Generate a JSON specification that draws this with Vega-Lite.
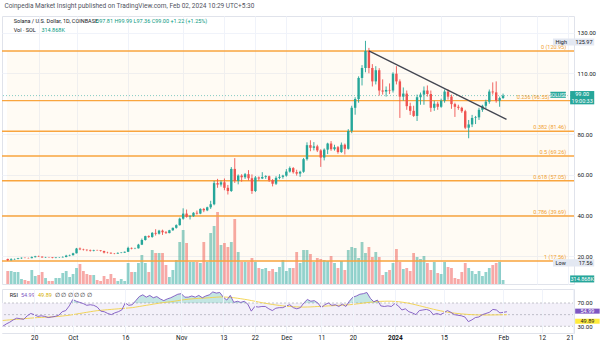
{
"$schema": "https://vega.github.io/schema/vega-lite/v6.json",
"background": "white",
"padding": {"left": 0, "top": 2, "right": 0, "bottom": 0},
"title": {"text": "Coinpedia Market Insight published on TradingView.com, Feb 02, 2024 10:29 UTC+5:30", "anchor": "start", "fontSize": 6.5, "fontWeight": "normal", "color": "#50535e", "offset": 6.5, "dx": 4},
"spacing": 3,
"config": {"font": "Liberation Sans Narrow, Roboto, sans-serif", "view": {"stroke": "#e0e3eb", "strokeWidth": 1}},
"datasets": {
"k": [
{"d":"2023-09-11","o":18.56,"h":18.7,"l":17.56,"c":17.95,"v":1.3,"r":30,"m":40},
{"d":"2023-09-12","o":17.95,"h":18.9,"l":17.8,"c":18.4,"v":1.3,"r":34,"m":40.5},
{"d":"2023-09-13","o":18.4,"h":18.75,"l":18.1,"c":18.55,"v":1.2,"r":37,"m":41},
{"d":"2023-09-14","o":18.55,"h":19.1,"l":18.4,"c":18.9,"v":1.2,"r":41,"m":41.5},
{"d":"2023-09-15","o":18.9,"h":19.3,"l":18.6,"c":19.15,"v":0.5,"r":44,"m":42},
{"d":"2023-09-16","o":19.15,"h":19.3,"l":18.9,"c":19.05,"v":0.4,"r":43,"m":42.5},
{"d":"2023-09-17","o":19.05,"h":19.2,"l":18.8,"c":18.95,"v":0.3,"r":42,"m":43},
{"d":"2023-09-18","o":18.95,"h":19.8,"l":18.9,"c":19.45,"v":1.4,"r":48,"m":43.5},
{"d":"2023-09-19","o":19.45,"h":20.1,"l":19.3,"c":19.85,"v":0.8,"r":52,"m":44},
{"d":"2023-09-20","o":19.85,"h":20.2,"l":19.5,"c":19.7,"v":0.9,"r":50,"m":44.5},
{"d":"2023-09-21","o":19.7,"h":19.8,"l":19.2,"c":19.3,"v":1.2,"r":47,"m":45},
{"d":"2023-09-22","o":19.3,"h":19.6,"l":19.1,"c":19.45,"v":0.6,"r":48,"m":45.3},
{"d":"2023-09-23","o":19.45,"h":19.55,"l":19.2,"c":19.35,"v":0.3,"r":47,"m":45.6},
{"d":"2023-09-24","o":19.35,"h":19.45,"l":18.9,"c":19.05,"v":0.3,"r":45,"m":45.9},
{"d":"2023-09-25","o":19.05,"h":19.4,"l":18.9,"c":19.3,"v":0.6,"r":46,"m":46.2},
{"d":"2023-09-26","o":19.3,"h":19.5,"l":19.05,"c":19.35,"v":0.6,"r":47,"m":46.5},
{"d":"2023-09-27","o":19.35,"h":19.9,"l":19.2,"c":19.5,"v":1.1,"r":49,"m":47},
{"d":"2023-09-28","o":19.5,"h":20.6,"l":19.4,"c":20.2,"v":1.3,"r":55,"m":47.6},
{"d":"2023-09-29","o":20.2,"h":20.7,"l":19.9,"c":20.4,"v":0.7,"r":57,"m":48.3},
{"d":"2023-09-30","o":20.4,"h":21.6,"l":20.3,"c":21.35,"v":1.0,"r":65,"m":49},
{"d":"2023-10-01","o":21.35,"h":24.0,"l":21.3,"c":23.7,"v":1.6,"r":76,"m":50},
{"d":"2023-10-02","o":23.7,"h":24.2,"l":22.9,"c":23.3,"v":2.0,"r":73,"m":51},
{"d":"2023-10-03","o":23.3,"h":23.6,"l":22.7,"c":23.1,"v":1.3,"r":71,"m":52},
{"d":"2023-10-04","o":23.1,"h":23.3,"l":22.4,"c":22.9,"v":1.0,"r":69,"m":53},
{"d":"2023-10-05","o":22.9,"h":23.2,"l":22.2,"c":22.6,"v":0.9,"r":66,"m":54},
{"d":"2023-10-06","o":22.6,"h":23.1,"l":22.3,"c":22.9,"v":0.9,"r":67,"m":55},
{"d":"2023-10-07","o":22.9,"h":23.1,"l":22.6,"c":22.8,"v":0.4,"r":66,"m":56},
{"d":"2023-10-08","o":22.8,"h":22.9,"l":22.2,"c":22.5,"v":0.3,"r":63,"m":56.8},
{"d":"2023-10-09","o":22.5,"h":22.6,"l":21.3,"c":21.7,"v":0.8,"r":56,"m":57.4},
{"d":"2023-10-10","o":21.7,"h":22.1,"l":21.3,"c":21.6,"v":0.5,"r":55,"m":58},
{"d":"2023-10-11","o":21.6,"h":21.8,"l":21.0,"c":21.3,"v":1.0,"r":52,"m":58.5},
{"d":"2023-10-12","o":21.3,"h":21.5,"l":20.9,"c":21.2,"v":0.6,"r":50,"m":59},
{"d":"2023-10-13","o":21.2,"h":21.8,"l":21.1,"c":21.55,"v":0.3,"r":53,"m":59.5},
{"d":"2023-10-14","o":21.55,"h":21.9,"l":21.4,"c":21.7,"v":0.5,"r":55,"m":60},
{"d":"2023-10-15","o":21.7,"h":22.2,"l":21.5,"c":22.1,"v":0.3,"r":58,"m":60.5},
{"d":"2023-10-16","o":22.1,"h":24.6,"l":22.0,"c":24.0,"v":2.1,"r":70,"m":61},
{"d":"2023-10-17","o":24.0,"h":24.2,"l":23.3,"c":23.7,"v":1.2,"r":66,"m":61.5},
{"d":"2023-10-18","o":23.7,"h":24.1,"l":23.4,"c":23.8,"v":1.2,"r":67,"m":62},
{"d":"2023-10-19","o":23.8,"h":26.0,"l":23.7,"c":25.6,"v":2.1,"r":74,"m":63},
{"d":"2023-10-20","o":25.6,"h":28.6,"l":25.4,"c":27.9,"v":2.9,"r":81,"m":64},
{"d":"2023-10-21","o":27.9,"h":30.0,"l":27.6,"c":29.8,"v":2.1,"r":84,"m":65},
{"d":"2023-10-22","o":29.8,"h":30.2,"l":28.9,"c":29.4,"v":1.2,"r":80,"m":66},
{"d":"2023-10-23","o":29.4,"h":31.8,"l":29.0,"c":31.4,"v":3.4,"r":83,"m":67},
{"d":"2023-10-24","o":31.4,"h":33.2,"l":30.1,"c":31.0,"v":3.1,"r":79,"m":68},
{"d":"2023-10-25","o":31.0,"h":32.9,"l":30.6,"c":32.5,"v":3.1,"r":81,"m":69},
{"d":"2023-10-26","o":32.5,"h":33.0,"l":30.4,"c":31.7,"v":3.1,"r":77,"m":70},
{"d":"2023-10-27","o":31.7,"h":32.3,"l":30.9,"c":31.3,"v":1.9,"r":74,"m":70.8},
{"d":"2023-10-28","o":31.3,"h":32.9,"l":31.2,"c":32.7,"v":0.7,"r":77,"m":71.5},
{"d":"2023-10-29","o":32.7,"h":34.0,"l":32.4,"c":33.9,"v":1.4,"r":79,"m":72.2},
{"d":"2023-10-30","o":33.9,"h":35.6,"l":33.5,"c":35.2,"v":2.4,"r":82,"m":73},
{"d":"2023-10-31","o":35.2,"h":38.9,"l":35.0,"c":38.4,"v":4.2,"r":85,"m":74},
{"d":"2023-11-01","o":38.4,"h":43.5,"l":37.9,"c":40.9,"v":5.4,"r":86,"m":75},
{"d":"2023-11-02","o":40.9,"h":42.9,"l":38.9,"c":39.3,"v":4.1,"r":80,"m":75.8},
{"d":"2023-11-03","o":39.3,"h":40.1,"l":38.0,"c":39.6,"v":2.2,"r":80,"m":76.5},
{"d":"2023-11-04","o":39.6,"h":41.6,"l":39.3,"c":41.3,"v":2.2,"r":82,"m":77},
{"d":"2023-11-05","o":41.3,"h":42.4,"l":40.4,"c":40.9,"v":2.2,"r":80,"m":77.5},
{"d":"2023-11-06","o":40.9,"h":43.5,"l":40.6,"c":43.2,"v":2.1,"r":83,"m":78},
{"d":"2023-11-07","o":43.2,"h":43.7,"l":41.6,"c":42.5,"v":4.2,"r":79,"m":78.3},
{"d":"2023-11-08","o":42.5,"h":44.3,"l":42.1,"c":44.0,"v":2.2,"r":82,"m":78.6},
{"d":"2023-11-09","o":44.0,"h":47.2,"l":43.2,"c":45.5,"v":5.1,"r":84,"m":79},
{"d":"2023-11-10","o":45.5,"h":57.0,"l":45.0,"c":55.9,"v":5.8,"r":89,"m":79.5},
{"d":"2023-11-11","o":55.9,"h":58.0,"l":53.6,"c":55.2,"v":7.2,"r":87,"m":80},
{"d":"2023-11-12","o":55.2,"h":57.2,"l":54.2,"c":56.3,"v":3.9,"r":88,"m":80.3},
{"d":"2023-11-13","o":56.3,"h":58.2,"l":52.4,"c":53.6,"v":4.1,"r":80,"m":80.3},
{"d":"2023-11-14","o":53.6,"h":55.0,"l":50.3,"c":52.0,"v":3.7,"r":75,"m":80},
{"d":"2023-11-15","o":52.0,"h":63.8,"l":51.6,"c":62.9,"v":4.2,"r":83,"m":79.6},
{"d":"2023-11-16","o":62.9,"h":68.2,"l":56.0,"c":57.0,"v":6.5,"r":71,"m":79},
{"d":"2023-11-17","o":57.0,"h":60.2,"l":55.3,"c":59.6,"v":3.2,"r":73,"m":78.2},
{"d":"2023-11-18","o":59.6,"h":60.3,"l":56.6,"c":58.8,"v":2.2,"r":71,"m":77.3},
{"d":"2023-11-19","o":58.8,"h":60.9,"l":58.0,"c":60.3,"v":2.2,"r":73,"m":76.4},
{"d":"2023-11-20","o":60.3,"h":62.3,"l":57.2,"c":58.3,"v":2.2,"r":68,"m":75.4},
{"d":"2023-11-21","o":58.3,"h":60.2,"l":50.6,"c":52.0,"v":2.6,"r":56,"m":74.2},
{"d":"2023-11-22","o":52.0,"h":59.4,"l":51.5,"c":58.7,"v":2.2,"r":64,"m":73},
{"d":"2023-11-23","o":58.7,"h":59.2,"l":57.1,"c":58.2,"v":1.6,"r":63,"m":71.8},
{"d":"2023-11-24","o":58.2,"h":61.3,"l":57.9,"c":58.9,"v":1.5,"r":64,"m":70.6},
{"d":"2023-11-25","o":58.9,"h":59.8,"l":58.0,"c":59.3,"v":1.6,"r":64,"m":69.5},
{"d":"2023-11-26","o":59.3,"h":59.6,"l":56.5,"c":57.4,"v":1.3,"r":60,"m":68.5},
{"d":"2023-11-27","o":57.4,"h":57.9,"l":54.3,"c":55.6,"v":1.5,"r":57,"m":67.5},
{"d":"2023-11-28","o":55.6,"h":59.3,"l":55.0,"c":58.5,"v":1.2,"r":61,"m":66.6},
{"d":"2023-11-29","o":58.5,"h":60.3,"l":57.8,"c":59.0,"v":1.7,"r":62,"m":65.8},
{"d":"2023-11-30","o":59.0,"h":60.0,"l":58.1,"c":59.6,"v":2.4,"r":62,"m":65},
{"d":"2023-12-01","o":59.6,"h":62.8,"l":59.1,"c":61.6,"v":1.3,"r":65,"m":64.4},
{"d":"2023-12-02","o":61.6,"h":64.1,"l":61.1,"c":63.3,"v":1.6,"r":67,"m":64},
{"d":"2023-12-03","o":63.3,"h":63.8,"l":60.6,"c":61.3,"v":1.6,"r":62,"m":63.6},
{"d":"2023-12-04","o":61.3,"h":62.5,"l":59.6,"c":60.6,"v":3.2,"r":60,"m":63.3},
{"d":"2023-12-05","o":60.6,"h":62.0,"l":59.0,"c":61.5,"v":2.1,"r":62,"m":63.1},
{"d":"2023-12-06","o":61.5,"h":68.3,"l":61.0,"c":67.7,"v":3.4,"r":70,"m":63},
{"d":"2023-12-07","o":67.7,"h":76.0,"l":67.0,"c":74.6,"v":3.4,"r":76,"m":63.1},
{"d":"2023-12-08","o":74.6,"h":77.0,"l":71.6,"c":73.3,"v":3.0,"r":73,"m":63.3},
{"d":"2023-12-09","o":73.3,"h":76.1,"l":72.0,"c":74.0,"v":2.2,"r":74,"m":63.6},
{"d":"2023-12-10","o":74.0,"h":74.8,"l":71.2,"c":72.0,"v":2.6,"r":70,"m":64},
{"d":"2023-12-11","o":72.0,"h":72.6,"l":63.9,"c":68.5,"v":2.5,"r":62,"m":64.3},
{"d":"2023-12-12","o":68.5,"h":73.0,"l":67.1,"c":72.4,"v":2.4,"r":67,"m":64.6},
{"d":"2023-12-13","o":72.4,"h":75.8,"l":70.2,"c":75.4,"v":2.3,"r":70,"m":65},
{"d":"2023-12-14","o":75.4,"h":76.6,"l":71.8,"c":72.6,"v":2.8,"r":66,"m":65.3},
{"d":"2023-12-15","o":72.6,"h":74.8,"l":71.9,"c":73.6,"v":2.1,"r":67,"m":65.6},
{"d":"2023-12-16","o":73.6,"h":74.2,"l":70.4,"c":71.2,"v":1.6,"r":64,"m":66},
{"d":"2023-12-17","o":71.2,"h":75.9,"l":70.8,"c":74.8,"v":2.3,"r":68,"m":66.3},
{"d":"2023-12-18","o":74.8,"h":75.4,"l":70.0,"c":72.8,"v":1.4,"r":64,"m":66.6},
{"d":"2023-12-19","o":72.8,"h":82.5,"l":72.4,"c":81.6,"v":3.4,"r":73,"m":67},
{"d":"2023-12-20","o":81.6,"h":94.0,"l":80.5,"c":93.0,"v":3.7,"r":80,"m":67.6},
{"d":"2023-12-21","o":93.0,"h":98.2,"l":89.6,"c":97.3,"v":3.6,"r":82,"m":68.3},
{"d":"2023-12-22","o":97.3,"h":108.5,"l":95.5,"c":107.7,"v":2.6,"r":85,"m":69},
{"d":"2023-12-23","o":107.7,"h":114.0,"l":104.0,"c":112.6,"v":4.2,"r":86,"m":69.8},
{"d":"2023-12-24","o":112.6,"h":125.97,"l":110.5,"c":120.95,"v":3.1,"r":88,"m":70.6},
{"d":"2023-12-25","o":120.95,"h":122.5,"l":110.0,"c":112.6,"v":3.7,"r":78,"m":71.3},
{"d":"2023-12-26","o":112.6,"h":114.5,"l":103.5,"c":106.0,"v":2.7,"r":72,"m":71.9},
{"d":"2023-12-27","o":106.0,"h":113.5,"l":104.5,"c":111.5,"v":3.2,"r":75,"m":72.4},
{"d":"2023-12-28","o":111.5,"h":112.5,"l":99.0,"c":101.5,"v":2.7,"r":65,"m":72.8},
{"d":"2023-12-29","o":101.5,"h":107.0,"l":99.5,"c":101.0,"v":0.9,"r":64,"m":73},
{"d":"2023-12-30","o":101.0,"h":103.5,"l":98.5,"c":101.8,"v":1.2,"r":65,"m":73.1},
{"d":"2023-12-31","o":101.8,"h":105.0,"l":99.8,"c":101.5,"v":1.4,"r":64,"m":73},
{"d":"2024-01-01","o":101.5,"h":110.5,"l":100.5,"c":109.8,"v":2.1,"r":69,"m":72.7},
{"d":"2024-01-02","o":109.8,"h":113.5,"l":104.5,"c":106.0,"v":3.5,"r":65,"m":72.2},
{"d":"2024-01-03","o":106.0,"h":107.0,"l":88.0,"c":98.5,"v":2.2,"r":58,"m":71.5},
{"d":"2024-01-04","o":98.5,"h":103.0,"l":96.5,"c":100.0,"v":1.5,"r":60,"m":70.6},
{"d":"2024-01-05","o":100.0,"h":101.5,"l":92.0,"c":93.8,"v":1.6,"r":55,"m":69.5},
{"d":"2024-01-06","o":93.8,"h":95.5,"l":89.5,"c":91.5,"v":1.3,"r":53,"m":68.2},
{"d":"2024-01-07","o":91.5,"h":94.0,"l":88.5,"c":89.0,"v":3.1,"r":50,"m":66.8},
{"d":"2024-01-08","o":89.0,"h":99.5,"l":86.5,"c":98.2,"v":2.7,"r":57,"m":65.3},
{"d":"2024-01-09","o":98.2,"h":100.5,"l":94.5,"c":99.5,"v":2.5,"r":58,"m":63.8},
{"d":"2024-01-10","o":99.5,"h":103.5,"l":94.5,"c":101.5,"v":2.8,"r":59,"m":62.3},
{"d":"2024-01-11","o":101.5,"h":104.0,"l":98.5,"c":99.8,"v":2.1,"r":57,"m":60.8},
{"d":"2024-01-12","o":99.8,"h":101.5,"l":91.0,"c":93.0,"v":1.4,"r":50,"m":59.3},
{"d":"2024-01-13","o":93.0,"h":96.5,"l":91.5,"c":95.0,"v":2.2,"r":52,"m":57.9},
{"d":"2024-01-14","o":95.0,"h":96.0,"l":92.0,"c":93.5,"v":1.1,"r":50,"m":56.6},
{"d":"2024-01-15","o":93.5,"h":97.5,"l":93.0,"c":96.5,"v":1.0,"r":53,"m":55.4},
{"d":"2024-01-16","o":96.5,"h":102.0,"l":95.5,"c":101.0,"v":2.2,"r":57,"m":54.3},
{"d":"2024-01-17","o":101.0,"h":102.0,"l":97.0,"c":98.5,"v":1.7,"r":54,"m":53.4},
{"d":"2024-01-18","o":98.5,"h":99.5,"l":92.5,"c":94.8,"v":1.6,"r":50,"m":52.6},
{"d":"2024-01-19","o":94.8,"h":95.5,"l":88.5,"c":93.5,"v":0.6,"r":49,"m":51.9},
{"d":"2024-01-20","o":93.5,"h":94.5,"l":92.0,"c":93.0,"v":0.5,"r":48,"m":51.3},
{"d":"2024-01-21","o":93.0,"h":93.5,"l":90.5,"c":91.3,"v":1.2,"r":46,"m":50.8},
{"d":"2024-01-22","o":91.3,"h":92.0,"l":82.5,"c":83.2,"v":2.1,"r":38,"m":50.3},
{"d":"2024-01-23","o":83.2,"h":87.0,"l":78.0,"c":84.8,"v":1.6,"r":41,"m":50},
{"d":"2024-01-24","o":84.8,"h":89.5,"l":83.5,"c":88.0,"v":1.3,"r":45,"m":49.7},
{"d":"2024-01-25","o":88.0,"h":89.0,"l":85.0,"c":88.3,"v":1.0,"r":46,"m":49.5},
{"d":"2024-01-26","o":88.3,"h":93.0,"l":87.0,"c":92.0,"v":1.3,"r":50,"m":49.4},
{"d":"2024-01-27","o":92.0,"h":94.5,"l":91.0,"c":94.0,"v":0.8,"r":52,"m":49.4},
{"d":"2024-01-28","o":94.0,"h":97.0,"l":92.5,"c":96.0,"v":1.2,"r":54,"m":49.4},
{"d":"2024-01-29","o":96.0,"h":102.0,"l":95.0,"c":101.0,"v":1.6,"r":59,"m":49.5},
{"d":"2024-01-30","o":101.0,"h":105.5,"l":99.5,"c":100.6,"v":1.9,"r":58,"m":49.6},
{"d":"2024-01-31","o":100.6,"h":106.0,"l":95.5,"c":96.5,"v":2.1,"r":53,"m":49.7},
{"d":"2024-02-01","o":96.5,"h":98.5,"l":93.5,"c":97.78,"v":2.2,"r":54,"m":49.8},
{"d":"2024-02-02","o":97.81,"h":99.99,"l":97.36,"c":99.0,"v":0.4,"r":54.99,"m":49.89}
],
"fib": [
{"lab":"0 (120.95)","p":120.95},
{"lab":"0.236 (96.55)","p":96.55},
{"lab":"0.382 (81.46)","p":81.46},
{"lab":"0.5 (69.26)","p":69.26},
{"lab":"0.618 (57.05)","p":57.05},
{"lab":"0.786 (39.69)","p":39.69},
{"lab":"1 (17.56)","p":17.56}
],
"trend": [
{"d":"2023-12-25","p":121.0},
{"d":"2024-02-03","p":87.3}
]
},
"vconcat": [
{
"width": 572, "height": 268,
"data": {"name": "k"},
"layer": [
{"mark": {"type": "bar", "size": 2.8, "opacity": 0.5},
 "encoding": {
  "x": {"field": "d", "type": "temporal", "title": null,
   "scale": {"type": "utc", "domain": [{"year":2023,"month":9,"date":10,"hours":19,"utc":true},{"year":2024,"month":2,"date":21,"hours":4,"utc":true}]},
   "axis": {"labels": false, "ticks": false, "domain": false, "grid": true, "gridColor": "#f0f3fa", "title": null,
    "values": [{"year":2023,"month":9,"date":20,"utc":true},{"year":2023,"month":10,"date":1,"utc":true},{"year":2023,"month":10,"date":16,"utc":true},{"year":2023,"month":11,"date":1,"utc":true},{"year":2023,"month":11,"date":13,"utc":true},{"year":2023,"month":11,"date":22,"utc":true},{"year":2023,"month":12,"date":1,"utc":true},{"year":2023,"month":12,"date":11,"utc":true},{"year":2023,"month":12,"date":20,"utc":true},{"year":2024,"month":1,"date":1,"utc":true},{"year":2024,"month":1,"date":15,"utc":true},{"year":2024,"month":2,"date":1,"utc":true},{"year":2024,"month":2,"date":12,"utc":true},{"year":2024,"month":2,"date":21,"utc":true}]}},
  "y": {"field": "v", "type": "quantitative", "title": null, "scale": {"domain": [0, 26.8]}, "axis": null},
  "color": {"condition": {"test": "datum.c >= datum.o", "value": "#26a69a"}, "value": "#ef5350"}
 }},
{"layer": [
 {"data": {"values": [{"lo": 17.56, "hi": 120.95}]},
  "mark": {"type": "rect", "color": "#ff9800", "opacity": 0.045},
  "encoding": {
   "x": {"datum": {"year":2023,"month":9,"date":10,"hours":19,"utc":true}, "type": "temporal"},
   "x2": {"datum": {"year":2024,"month":2,"date":21,"hours":4,"utc":true}},
   "y": {"field": "lo", "type": "quantitative", "title": null, "scale": {"domain": [6.23, 138.2], "zero": false, "nice": false},
    "axis": {"orient": "right", "values": [20,30,40,50,60,70,80,90,110,120,130], "format": ".2f", "grid": true, "gridColor": "#f0f3fa", "domain": false, "ticks": false, "labelFontSize": 6, "labelColor": "#131722", "labelPadding": 3, "title": null}},
   "y2": {"field": "hi"}
  }},
 {"data": {"values": [{"p": 99}]},
  "mark": {"type": "rule", "color": "#26a69a", "strokeDash": [1, 2], "strokeWidth": 0.8, "opacity": 0.7},
  "encoding": {"y": {"field": "p", "type": "quantitative", "title": null, "scale": {"domain": [6.23, 138.2], "zero": false, "nice": false}}}},
 {"data": {"name": "fib"},
  "mark": {"type": "rule", "color": "#f9a53e", "strokeWidth": 1.4},
  "encoding": {"y": {"field": "p", "type": "quantitative", "title": null, "scale": {"domain": [6.23, 138.2], "zero": false, "nice": false}}}},
 {"data": {"name": "fib"},
  "transform": [{"filter": "datum.p != 96.55"}],
  "mark": {"type": "text", "align": "right", "baseline": "bottom", "dy": -1, "fontSize": 5.5, "color": "#f0a030"},
  "encoding": {
   "x": {"datum": {"year":2024,"month":2,"date":20,"hours":8,"utc":true}, "type": "temporal"},
   "y": {"field": "p", "type": "quantitative", "title": null, "scale": {"domain": [6.23, 138.2], "zero": false, "nice": false}},
   "text": {"field": "lab"}}},
 {"data": {"name": "fib"},
  "transform": [{"filter": "datum.p == 96.55"}],
  "mark": {"type": "text", "align": "right", "baseline": "bottom", "dy": -1, "fontSize": 5.5, "color": "#f0a030"},
  "encoding": {
   "x": {"datum": {"year":2024,"month":2,"date":15,"hours":12,"utc":true}, "type": "temporal"},
   "y": {"field": "p", "type": "quantitative", "title": null, "scale": {"domain": [6.23, 138.2], "zero": false, "nice": false}},
   "text": {"field": "lab"}}},
 {"mark": {"type": "rule", "strokeWidth": 0.9},
  "encoding": {
   "x": {"field": "d", "type": "temporal", "title": null},
   "y": {"field": "l", "type": "quantitative", "title": null, "scale": {"domain": [6.23, 138.2], "zero": false, "nice": false}},
   "y2": {"field": "h"},
   "color": {"condition": {"test": "datum.c >= datum.o", "value": "#26a69a"}, "value": "#ef5350"}}},
 {"mark": {"type": "bar", "size": 2.4},
  "encoding": {
   "x": {"field": "d", "type": "temporal", "title": null},
   "y": {"field": "o", "type": "quantitative", "title": null, "scale": {"domain": [6.23, 138.2], "zero": false, "nice": false}},
   "y2": {"field": "c"},
   "color": {"condition": {"test": "datum.c >= datum.o", "value": "#26a69a"}, "value": "#ef5350"}}},
 {"data": {"name": "trend"},
  "mark": {"type": "line", "color": "#434651", "strokeWidth": 1.3},
  "encoding": {
   "x": {"field": "d", "type": "temporal", "title": null},
   "y": {"field": "p", "type": "quantitative", "title": null, "scale": {"domain": [6.23, 138.2], "zero": false, "nice": false}}}},
 {"data": {"values": [{}]},
  "mark": {"type": "text", "align": "left", "baseline": "middle", "fontSize": 5.5, "color": "#131722"},
  "encoding": {"x": {"datum": {"year":2023,"month":9,"date":12,"hours":18,"utc":true}, "type": "temporal"}, "y": {"datum": 135.7}, "text": {"value": "Solana / U.S. Dollar, 1D, COINBASE"}}},
 {"data": {"values": [{}]},
  "mark": {"type": "text", "align": "left", "baseline": "middle", "fontSize": 5.5, "color": "#089981"},
  "encoding": {"x": {"datum": {"year":2023,"month":10,"date":6,"hours":12,"utc":true}, "type": "temporal"}, "y": {"datum": 135.7}, "text": {"value": "O97.81  H99.99  L97.36  C99.00  +1.22 (+1.25%)"}}},
 {"data": {"values": [{}]},
  "mark": {"type": "text", "align": "left", "baseline": "middle", "fontSize": 5.5, "color": "#131722"},
  "encoding": {"x": {"datum": {"year":2023,"month":9,"date":12,"hours":18,"utc":true}, "type": "temporal"}, "y": {"datum": 131.3}, "text": {"value": "Vol · SOL"}}},
 {"data": {"values": [{}]},
  "mark": {"type": "text", "align": "left", "baseline": "middle", "fontSize": 5.5, "color": "#089981"},
  "encoding": {"x": {"datum": {"year":2023,"month":9,"date":20,"hours":19,"utc":true}, "type": "temporal"}, "y": {"datum": 131.3}, "text": {"value": "314.868K"}}},
 {"data": {"values": [{}]},
  "mark": {"type": "rect", "color": "#e3e8f2"},
  "encoding": {"x": {"datum": {"year":2024,"month":2,"date":16,"hours":12,"utc":true}, "type": "temporal"}, "x2": {"datum": {"year":2024,"month":2,"date":28,"hours":12,"utc":true}}, "y": {"datum": 123.7}, "y2": {"datum": 127.1}}},
 {"data": {"values": [{}]},
  "mark": {"type": "text", "align": "left", "baseline": "middle", "fontSize": 5.5, "color": "#131722"},
  "encoding": {"x": {"datum": {"year":2024,"month":2,"date":17,"hours":6,"utc":true}, "type": "temporal"}, "y": {"datum": 125.4}, "text": {"value": "High"}}},
 {"data": {"values": [{}]},
  "mark": {"type": "text", "align": "right", "baseline": "middle", "fontSize": 5.5, "color": "#131722"},
  "encoding": {"x": {"datum": {"year":2024,"month":2,"date":28,"hours":0,"utc":true}, "type": "temporal"}, "y": {"datum": 125.4}, "text": {"value": "125.97"}}},
 {"data": {"values": [{}]},
  "mark": {"type": "rect", "color": "#e3e8f2"},
  "encoding": {"x": {"datum": {"year":2024,"month":2,"date":16,"hours":12,"utc":true}, "type": "temporal"}, "x2": {"datum": {"year":2024,"month":2,"date":28,"hours":12,"utc":true}}, "y": {"datum": 14.9}, "y2": {"datum": 18.4}}},
 {"data": {"values": [{}]},
  "mark": {"type": "text", "align": "left", "baseline": "middle", "fontSize": 5.5, "color": "#131722"},
  "encoding": {"x": {"datum": {"year":2024,"month":2,"date":17,"hours":6,"utc":true}, "type": "temporal"}, "y": {"datum": 16.6}, "text": {"value": "Low"}}},
 {"data": {"values": [{}]},
  "mark": {"type": "text", "align": "right", "baseline": "middle", "fontSize": 5.5, "color": "#131722"},
  "encoding": {"x": {"datum": {"year":2024,"month":2,"date":28,"hours":0,"utc":true}, "type": "temporal"}, "y": {"datum": 16.6}, "text": {"value": "17.56"}}},
 {"data": {"values": [{}]},
  "mark": {"type": "rect", "color": "#26a69a"},
  "encoding": {"x": {"datum": {"year":2024,"month":2,"date":15,"hours":18,"utc":true}, "type": "temporal"}, "x2": {"datum": {"year":2024,"month":2,"date":20,"hours":6,"utc":true}}, "y": {"datum": 97.9}, "y2": {"datum": 100.9}}},
 {"data": {"values": [{}]},
  "mark": {"type": "text", "align": "center", "baseline": "middle", "fontSize": 5, "color": "white"},
  "encoding": {"x": {"datum": {"year":2024,"month":2,"date":18,"hours":0,"utc":true}, "type": "temporal"}, "y": {"datum": 99.4}, "text": {"value": "SOLUSD"}}},
 {"data": {"values": [{}]},
  "mark": {"type": "rect", "color": "#26a69a"},
  "encoding": {"x": {"datum": {"year":2024,"month":2,"date":21,"hours":12,"utc":true}, "type": "temporal"}, "x2": {"datum": {"year":2024,"month":2,"date":28,"hours":12,"utc":true}}, "y": {"datum": 94.7}, "y2": {"datum": 101.25}}},
 {"data": {"values": [{}]},
  "mark": {"type": "text", "align": "center", "baseline": "middle", "fontSize": 5.5, "color": "white"},
  "encoding": {"x": {"datum": {"year":2024,"month":2,"date":25,"hours":0,"utc":true}, "type": "temporal"}, "y": {"datum": 99.9}, "text": {"value": "99.00"}}},
 {"data": {"values": [{}]},
  "mark": {"type": "text", "align": "center", "baseline": "middle", "fontSize": 5.5, "color": "white"},
  "encoding": {"x": {"datum": {"year":2024,"month":2,"date":25,"hours":0,"utc":true}, "type": "temporal"}, "y": {"datum": 96.3}, "text": {"value": "19:00:33"}}},
 {"data": {"values": [{}]},
  "mark": {"type": "rect", "color": "#26a69a"},
  "encoding": {"x": {"datum": {"year":2024,"month":2,"date":21,"hours":12,"utc":true}, "type": "temporal"}, "x2": {"datum": {"year":2024,"month":2,"date":28,"hours":12,"utc":true}}, "y": {"datum": 7.0}, "y2": {"datum": 10.45}}},
 {"data": {"values": [{}]},
  "mark": {"type": "text", "align": "center", "baseline": "middle", "fontSize": 5.5, "color": "white"},
  "encoding": {"x": {"datum": {"year":2024,"month":2,"date":25,"hours":0,"utc":true}, "type": "temporal"}, "y": {"datum": 8.7}, "text": {"value": "314.868K"}}}
]}
],
"resolve": {"scale": {"y": "independent"}}
},
{
"width": 572, "height": 44,
"data": {"name": "k"},
"layer": [
 {"mark": {"type": "area", "color": "#26a69a", "opacity": 0.28},
  "encoding": {
   "x": {"field": "d", "type": "temporal", "title": null,
    "scale": {"type": "utc", "domain": [{"year":2023,"month":9,"date":10,"hours":19,"utc":true},{"year":2024,"month":2,"date":21,"hours":4,"utc":true}]},
    "axis": {"values": [{"year":2023,"month":9,"date":20,"utc":true},{"year":2023,"month":10,"date":1,"utc":true},{"year":2023,"month":10,"date":16,"utc":true},{"year":2023,"month":11,"date":1,"utc":true},{"year":2023,"month":11,"date":13,"utc":true},{"year":2023,"month":11,"date":22,"utc":true},{"year":2023,"month":12,"date":1,"utc":true},{"year":2023,"month":12,"date":11,"utc":true},{"year":2023,"month":12,"date":20,"utc":true},{"year":2024,"month":1,"date":1,"utc":true},{"year":2024,"month":1,"date":15,"utc":true},{"year":2024,"month":2,"date":1,"utc":true},{"year":2024,"month":2,"date":12,"utc":true},{"year":2024,"month":2,"date":21,"utc":true}],
     "labelExpr": "utcdate(datum.value) == 1 ? (utcmonth(datum.value) == 0 ? utcFormat(datum.value, '%Y') : utcFormat(datum.value, '%b')) : utcFormat(datum.value, '%-d')",
     "labelFontWeight": {"condition": {"test": "utcmonth(datum.value) == 0 && utcdate(datum.value) == 1", "value": "bold"}, "value": "normal"},
     "labelFontSize": 6.5, "labelColor": "#131722", "labelPadding": 1, "grid": true, "gridColor": "#f0f3fa", "ticks": false, "domain": false, "zindex": 1,
     "title": "TradingView", "titleAnchor": "start", "titleAlign": "left", "titleFontSize": 7, "titleFontWeight": "bold", "titleColor": "#131722", "titleX": 8, "titleY": 20, "titleBaseline": "middle"}},
   "y": {"field": "r", "type": "quantitative", "title": null, "scale": {"domain": [18.5, 94], "zero": false, "nice": false},
    "axis": {"orient": "right", "values": [70, 30], "format": ".2f", "grid": false, "domain": false, "ticks": false, "labelFontSize": 6, "labelColor": "#131722", "labelPadding": 3, "title": null}},
   "y2": {"datum": 70}
  }},
 {"data": {"values": [{}]},
  "mark": {"type": "rect", "color": "white"},
  "encoding": {"x": {"datum": {"year":2023,"month":9,"date":10,"hours":19,"utc":true}, "type": "temporal"}, "x2": {"datum": {"year":2024,"month":2,"date":21,"hours":4,"utc":true}}, "y": {"datum": 18.5}, "y2": {"datum": 70}}},
 {"data": {"values": [{}]},
  "mark": {"type": "rect", "color": "#7e57c2", "opacity": 0.09},
  "encoding": {"x": {"datum": {"year":2023,"month":9,"date":10,"hours":19,"utc":true}, "type": "temporal"}, "x2": {"datum": {"year":2024,"month":2,"date":21,"hours":4,"utc":true}}, "y": {"datum": 30}, "y2": {"datum": 70}}},
 {"data": {"values": [{"lv": 70}, {"lv": 50}, {"lv": 30}]},
  "mark": {"type": "rule", "color": "#787b86", "strokeDash": [2, 2], "strokeWidth": 0.7, "opacity": 0.6},
  "encoding": {"y": {"field": "lv", "type": "quantitative", "title": null}}},
 {"mark": {"type": "line", "color": "#f2d147", "strokeWidth": 0.9},
  "encoding": {"x": {"field": "d", "type": "temporal", "title": null}, "y": {"field": "m", "type": "quantitative", "title": null}}},
 {"mark": {"type": "line", "color": "#7e57c2", "strokeWidth": 0.9},
  "encoding": {"x": {"field": "d", "type": "temporal", "title": null}, "y": {"field": "r", "type": "quantitative", "title": null}}},
 {"data": {"values": [{}]},
  "mark": {"type": "text", "align": "left", "baseline": "middle", "fontSize": 5.5, "color": "#131722"},
  "encoding": {"x": {"datum": {"year":2023,"month":9,"date":13,"hours":0,"utc":true}, "type": "temporal"}, "y": {"datum": 84}, "text": {"value": "RSI"}}},
 {"data": {"values": [{}]},
  "mark": {"type": "text", "align": "left", "baseline": "middle", "fontSize": 5.5, "color": "#7e57c2"},
  "encoding": {"x": {"datum": {"year":2023,"month":9,"date":16,"hours":5,"utc":true}, "type": "temporal"}, "y": {"datum": 84}, "text": {"value": "54.99"}}},
 {"data": {"values": [{}]},
  "mark": {"type": "text", "align": "left", "baseline": "middle", "fontSize": 5.5, "color": "#d4b000"},
  "encoding": {"x": {"datum": {"year":2023,"month":9,"date":21,"hours":2,"utc":true}, "type": "temporal"}, "y": {"datum": 84}, "text": {"value": "49.89"}}},
 {"data": {"values": [{}]},
  "mark": {"type": "text", "align": "left", "baseline": "middle", "fontSize": 5.5, "color": "#131722"},
  "encoding": {"x": {"datum": {"year":2023,"month":9,"date":25,"hours":22,"utc":true}, "type": "temporal"}, "y": {"datum": 84}, "text": {"value": "∅ ∅ ∅ ∅ ∅ ∅"}}},
 {"data": {"values": [{}]},
  "mark": {"type": "rect", "color": "#7e57c2"},
  "encoding": {"x": {"datum": {"year":2024,"month":2,"date":21,"hours":12,"utc":true}, "type": "temporal"}, "x2": {"datum": {"year":2024,"month":2,"date":28,"hours":12,"utc":true}}, "y": {"datum": 51.7}, "y2": {"datum": 60.3}}},
 {"data": {"values": [{}]},
  "mark": {"type": "text", "align": "center", "baseline": "middle", "fontSize": 5.5, "color": "white"},
  "encoding": {"x": {"datum": {"year":2024,"month":2,"date":25,"hours":0,"utc":true}, "type": "temporal"}, "y": {"datum": 56}, "text": {"value": "54.99"}}},
 {"data": {"values": [{}]},
  "mark": {"type": "rect", "color": "#ffeb3b"},
  "encoding": {"x": {"datum": {"year":2024,"month":2,"date":21,"hours":12,"utc":true}, "type": "temporal"}, "x2": {"datum": {"year":2024,"month":2,"date":28,"hours":12,"utc":true}}, "y": {"datum": 34.4}, "y2": {"datum": 43}}},
 {"data": {"values": [{}]},
  "mark": {"type": "text", "align": "center", "baseline": "middle", "fontSize": 5.5, "color": "#131722"},
  "encoding": {"x": {"datum": {"year":2024,"month":2,"date":25,"hours":0,"utc":true}, "type": "temporal"}, "y": {"datum": 38.7}, "text": {"value": "49.89"}}}
]
}
]
}
